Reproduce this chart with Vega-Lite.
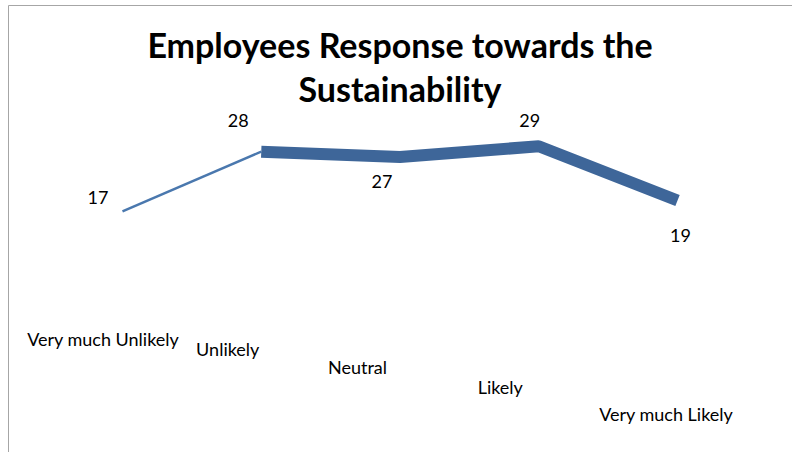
{
  "$schema": "https://vega.github.io/schema/vega-lite/v6.json",
  "width": 784,
  "height": 447,
  "autosize": {"type": "none"},
  "padding": {"left": 8, "top": 5, "right": 0, "bottom": 0},
  "background": "white",
  "config": {"view": {"stroke": null}},
  "title": {
    "text": ["Employees Response towards the", "Sustainability"],
    "font": "Lato",
    "fontSize": 34,
    "fontWeight": "bold",
    "color": "black",
    "anchor": "middle",
    "frame": "group",
    "baseline": "alphabetic",
    "offset": 0,
    "dy": 131,
    "lineHeight": 44
  },
  "data": {
    "values": [
      {"response": "Very much Unlikely", "count": 17},
      {"response": "Unlikely", "count": 28},
      {"response": "Neutral", "count": 27},
      {"response": "Likely", "count": 29},
      {"response": "Very much Likely", "count": 19}
    ]
  },
  "encoding": {
    "x": {
      "field": "response",
      "type": "ordinal",
      "sort": null,
      "scale": {"type": "point", "padding": 0.825},
      "axis": {
        "orient": "top",
        "title": null,
        "domain": true,
        "domainColor": "#A6A6A6",
        "domainWidth": 1,
        "ticks": false,
        "grid": false,
        "labelAngle": 0,
        "labelFont": "Lato",
        "labelFontSize": 18,
        "labelColor": "black",
        "labelAlign": "center",
        "labelBaseline": "middle",
        "labelOverlap": false,
        "labelPadding": {"expr": "[-335,-345,-363,-383,-410][indexof(['Very much Unlikely','Unlikely','Neutral','Likely','Very much Likely'], datum.value)]"},
        "labelOffset": {"expr": "[-20,-34,-43,-39,-12][indexof(['Very much Unlikely','Unlikely','Neutral','Likely','Very much Likely'], datum.value)]"}
      }
    },
    "y": {
      "field": "count",
      "type": "quantitative",
      "scale": {"domain": [-27.3, 55], "nice": false, "zero": false},
      "axis": {
        "title": null,
        "domain": true,
        "domainColor": "#A6A6A6",
        "labels": false,
        "ticks": false,
        "grid": false
      }
    }
  },
  "layer": [
    {
      "transform": [{"filter": {"field": "response", "oneOf": ["Very much Unlikely", "Unlikely"]}}],
      "mark": {"type": "line", "color": "#4A78AE", "strokeWidth": 2.5}
    },
    {
      "transform": [{"filter": {"field": "response", "oneOf": ["Unlikely", "Neutral", "Likely", "Very much Likely"]}}],
      "mark": {"type": "line", "color": "#3E6699", "strokeWidth": 12, "strokeJoin": "bevel", "strokeCap": "butt"}
    },
    {
      "transform": [{"filter": {"field": "response", "equal": "Very much Unlikely"}}],
      "mark": {"type": "text", "align": "right", "baseline": "middle", "dx": -14, "dy": -12, "font": "Lato", "fontSize": 18, "color": "black"},
      "encoding": {"text": {"field": "count"}}
    },
    {
      "transform": [{"filter": {"field": "response", "equal": "Unlikely"}}],
      "mark": {"type": "text", "align": "center", "baseline": "middle", "dy": -30, "dx": -23, "font": "Lato", "fontSize": 18, "color": "black"},
      "encoding": {"text": {"field": "count"}}
    },
    {
      "transform": [{"filter": {"field": "response", "equal": "Likely"}}],
      "mark": {"type": "text", "align": "center", "baseline": "middle", "dy": -24, "dx": -9, "font": "Lato", "fontSize": 18, "color": "black"},
      "encoding": {"text": {"field": "count"}}
    },
    {
      "transform": [{"filter": {"field": "response", "equal": "Neutral"}}],
      "mark": {"type": "text", "align": "center", "baseline": "middle", "dy": 26, "dx": -18, "font": "Lato", "fontSize": 18, "color": "black"},
      "encoding": {"text": {"field": "count"}}
    },
    {
      "transform": [{"filter": {"field": "response", "equal": "Very much Likely"}}],
      "mark": {"type": "text", "align": "center", "baseline": "middle", "dy": 36, "dx": 3, "font": "Lato", "fontSize": 18, "color": "black"},
      "encoding": {"text": {"field": "count"}}
    }
  ]
}
